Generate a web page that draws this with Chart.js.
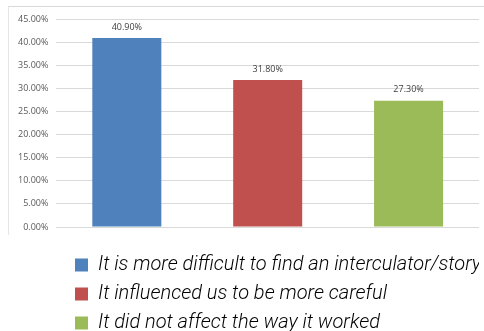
<!DOCTYPE html>
<html lang="en">
<head>
    <meta charset="UTF-8">
    <title>Bar chart</title>
    <script src="https://cdn.jsdelivr.net/npm/chart.js"></script>
    <style>
        body {
            margin: 0;
            padding: 0;
            background: #fff;
            overflow: hidden;
        }
        .wrap {
            position: relative;
            width: 484px;
            height: 331px;
        }
        .frame {
            position: absolute;
            left: 8px;
            top: 6px;
            width: 480px;
            height: 228px;
            border-top: 1px solid #d9d9d9;
            border-left: 1px solid #e6e6e6;
        }
    </style>
</head>
<body>
    <div class="wrap">
        <div class="frame"></div>
        <canvas id="myChart" width="484" height="331"></canvas>
    </div>

    <script>
        // categories and values
        const categories = [
            'It is more difficult to find an interculator/story',
            'It influenced us to be more careful',
            'It did not affect the way it worked'
        ];
        const shares = [0.409, 0.318, 0.273];
        const valueLabels = ['40.90%', '31.80%', '27.30%'];
        const yTicks = [0, 0.05, 0.10, 0.15, 0.20, 0.25, 0.30, 0.35, 0.40, 0.45];
        const colors = ['#4F81BD', '#C0504D', '#9BBB59'];

        // draws the value above each bar
        const valueLabelPlugin = {
            id: 'valueLabels',
            afterDatasetsDraw(chart) {
                const ctx = chart.ctx;
                const meta = chart.getDatasetMeta(0);
                ctx.save();
                ctx.font = '9px "Open Sans", sans-serif';
                ctx.fillStyle = '#404040';
                ctx.textAlign = 'center';
                ctx.textBaseline = 'middle';
                meta.data.forEach((bar, i) => {
                    ctx.fillText(valueLabels[i], bar.x, bar.y - 11);
                });
                ctx.restore();
            }
        };

        // legend sits under the plot, shifted to line up like the original
        const legendShift = {
            id: 'legendShift',
            afterLayout(chart) {
                chart.legend.left = 66;
            }
        };

        const ctx = document.getElementById('myChart').getContext('2d');
        const myChart = new Chart(ctx, {
            type: 'bar',
            data: {
                labels: categories,
                datasets: [{
                    data: shares,
                    backgroundColor: colors,
                    borderWidth: 0,
                    categoryPercentage: 1,
                    barPercentage: 0.49
                }]
            },
            options: {
                responsive: false,
                animation: false,
                layout: {
                    padding: { top: 19, left: 10, right: 5, bottom: -12 }
                },
                scales: {
                    x: {
                        grid: { display: false },
                        border: { display: false },
                        ticks: { display: false },
                        afterFit(axis) { axis.height = 19; }
                    },
                    y: {
                        min: 0,
                        max: 0.45,
                        afterBuildTicks(axis) {
                            axis.ticks = yTicks.map(v => ({ value: v }));
                        },
                        grid: { color: '#d9d9d9', drawTicks: false },
                        border: { display: false },
                        ticks: {
                            padding: 8,
                            color: '#595959',
                            font: { family: '"Open Sans", sans-serif', size: 9 },
                            callback: v => (v * 100).toFixed(2) + '%'
                        }
                    }
                },
                plugins: {
                    tooltip: { enabled: false },
                    legend: {
                        position: 'bottom',
                        align: 'start',
                        labels: {
                            boxWidth: 13,
                            boxHeight: 13,
                            padding: 9,
                            color: '#595959',
                            font: { family: 'Roboto', size: 20, style: 'italic', weight: 300 },
                            generateLabels: () => categories.map((c, i) => ({
                                text: c,
                                fillStyle: colors[i],
                                strokeStyle: colors[i],
                                lineWidth: 0,
                                index: i
                            }))
                        }
                    }
                }
            },
            plugins: [valueLabelPlugin, legendShift]
        });
    </script>
</body>
</html>
